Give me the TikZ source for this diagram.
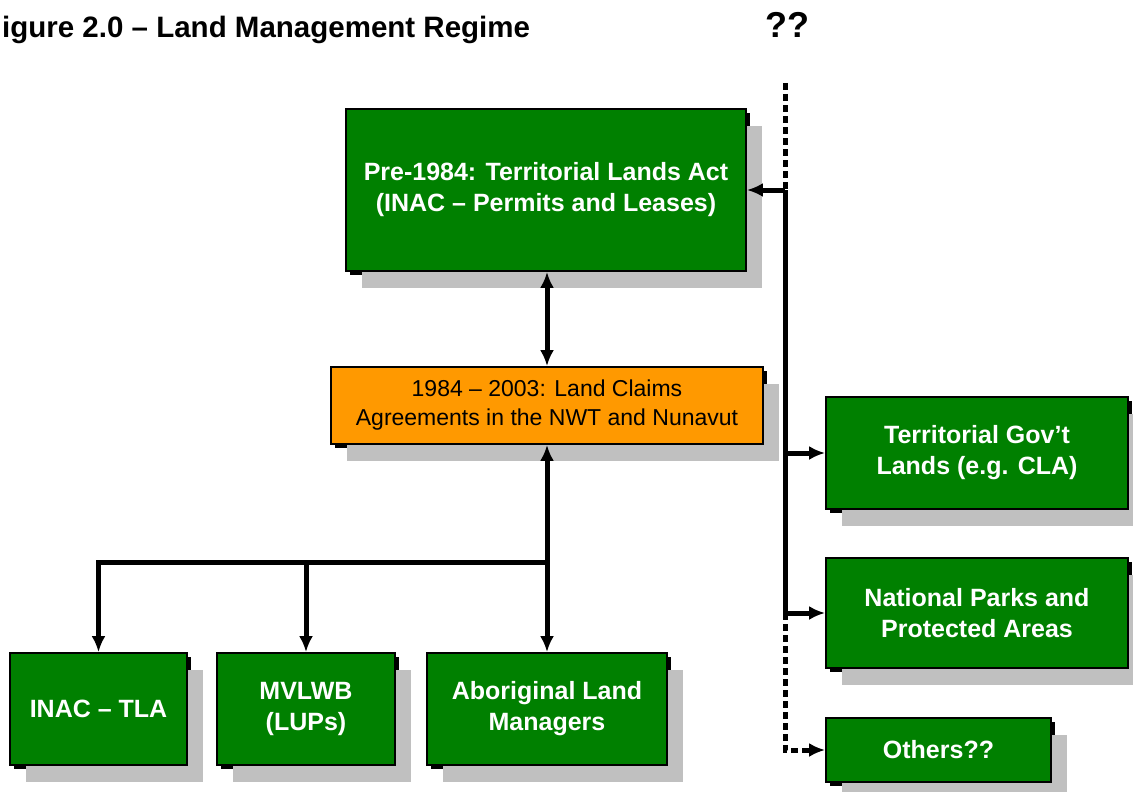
\documentclass[tikz,border=0pt]{standalone}
\usepackage{fontspec}
\setmainfont{Liberation Sans}
\usetikzlibrary{arrows.meta,shadows}
\definecolor{boxgreen}{RGB}{0,128,0}
\definecolor{boxorange}{RGB}{255,153,0}
\definecolor{shadowgray}{RGB}{192,192,192}
\begin{document}
\begin{tikzpicture}[x=1pt,y=-1pt,
  box/.style={draw=black, line width=1.8pt, inner sep=0pt, align=center,
    general shadow={fill=black, shadow xshift=3.5pt, shadow yshift=-3.5pt},
    general shadow={fill=shadowgray, shadow xshift=16pt, shadow yshift=-17pt}},
  gbox/.style={box, fill=boxgreen, text=white, font=\fontsize{25}{31}\selectfont\bfseries},
  obox/.style={box, fill=boxorange, text=black, font=\fontsize{23}{29}\selectfont},
  conn/.style={line width=5pt, draw=black},
  dconn/.style={conn, dash pattern=on 7pt off 4pt},
  tipend/.style={-{Latex[length=16pt,width=14pt]}},
  tipboth/.style={{Latex[length=16pt,width=14pt]}-{Latex[length=16pt,width=14pt]}}
]
\useasboundingbox (0,0) rectangle (1133,792);

% title
\node[anchor=base west, inner sep=0pt, font=\fontsize{29.5}{30}\selectfont\bfseries] (title) at (2,38) {igure 2.0 – Land Management Regime};
\node[anchor=base, inner sep=0pt, font=\fontsize{36}{36}\selectfont\bfseries] (qq) at (787,38) {??};

% boxes
\node[gbox, minimum width=400pt, minimum height=162pt] (tla) at (546,190)
  {Pre-1984: Territorial Lands Act\\(INAC – Permits and Leases)};
\node[obox, minimum width=432pt, minimum height=77pt] (lca) at (547,405.5)
  {1984 – 2003: Land Claims\\Agreements in the NWT and Nunavut};
\node[gbox, minimum width=302pt, minimum height=112pt] (tgl) at (977,453)
  {Territorial Gov't\\Lands (e.g. CLA)};
\node[gbox, minimum width=302pt, minimum height=110pt] (npa) at (977,613)
  {National Parks and\\Protected Areas};
\node[gbox, minimum width=225pt, minimum height=64pt] (oth) at (938.5,750)
  {Others??};
\node[gbox, minimum width=177pt, minimum height=112pt] (inac) at (98.5,709)
  {INAC – TLA};
\node[gbox, minimum width=178pt, minimum height=112pt] (mvlwb) at (306,709)
  {MVLWB\\(LUPs)};
\node[gbox, minimum width=240pt, minimum height=112pt] (alm) at (547,709)
  {Aboriginal Land\\Managers};

% left/centre connectors
\draw[conn, tipboth] (lca.north) -- (lca.north |- tla.south);
\draw[conn, tipboth] (lca.south) -- (alm.north);
\coordinate (j) at (547,562);
\draw[conn, tipend] (j) -| (inac.north);
\draw[conn, tipend] (j -| mvlwb.north) -- (mvlwb.north);

% right trunk
\coordinate (qtop) at (785,83);
\coordinate (t1) at (785,190);
\draw[dconn] (qtop) -- (t1);
\draw[conn, tipend] (t1) -- (tla.east);
\draw[conn] (t1) -- (t1 |- npa.west);
\draw[conn, tipend] (t1 |- tgl.west) -- (tgl.west);
\draw[conn, tipend] (t1 |- npa.west) -- (npa.west);
\draw[dconn, tipend] (t1 |- npa.west) |- (oth.west);
\end{tikzpicture}
\end{document}
